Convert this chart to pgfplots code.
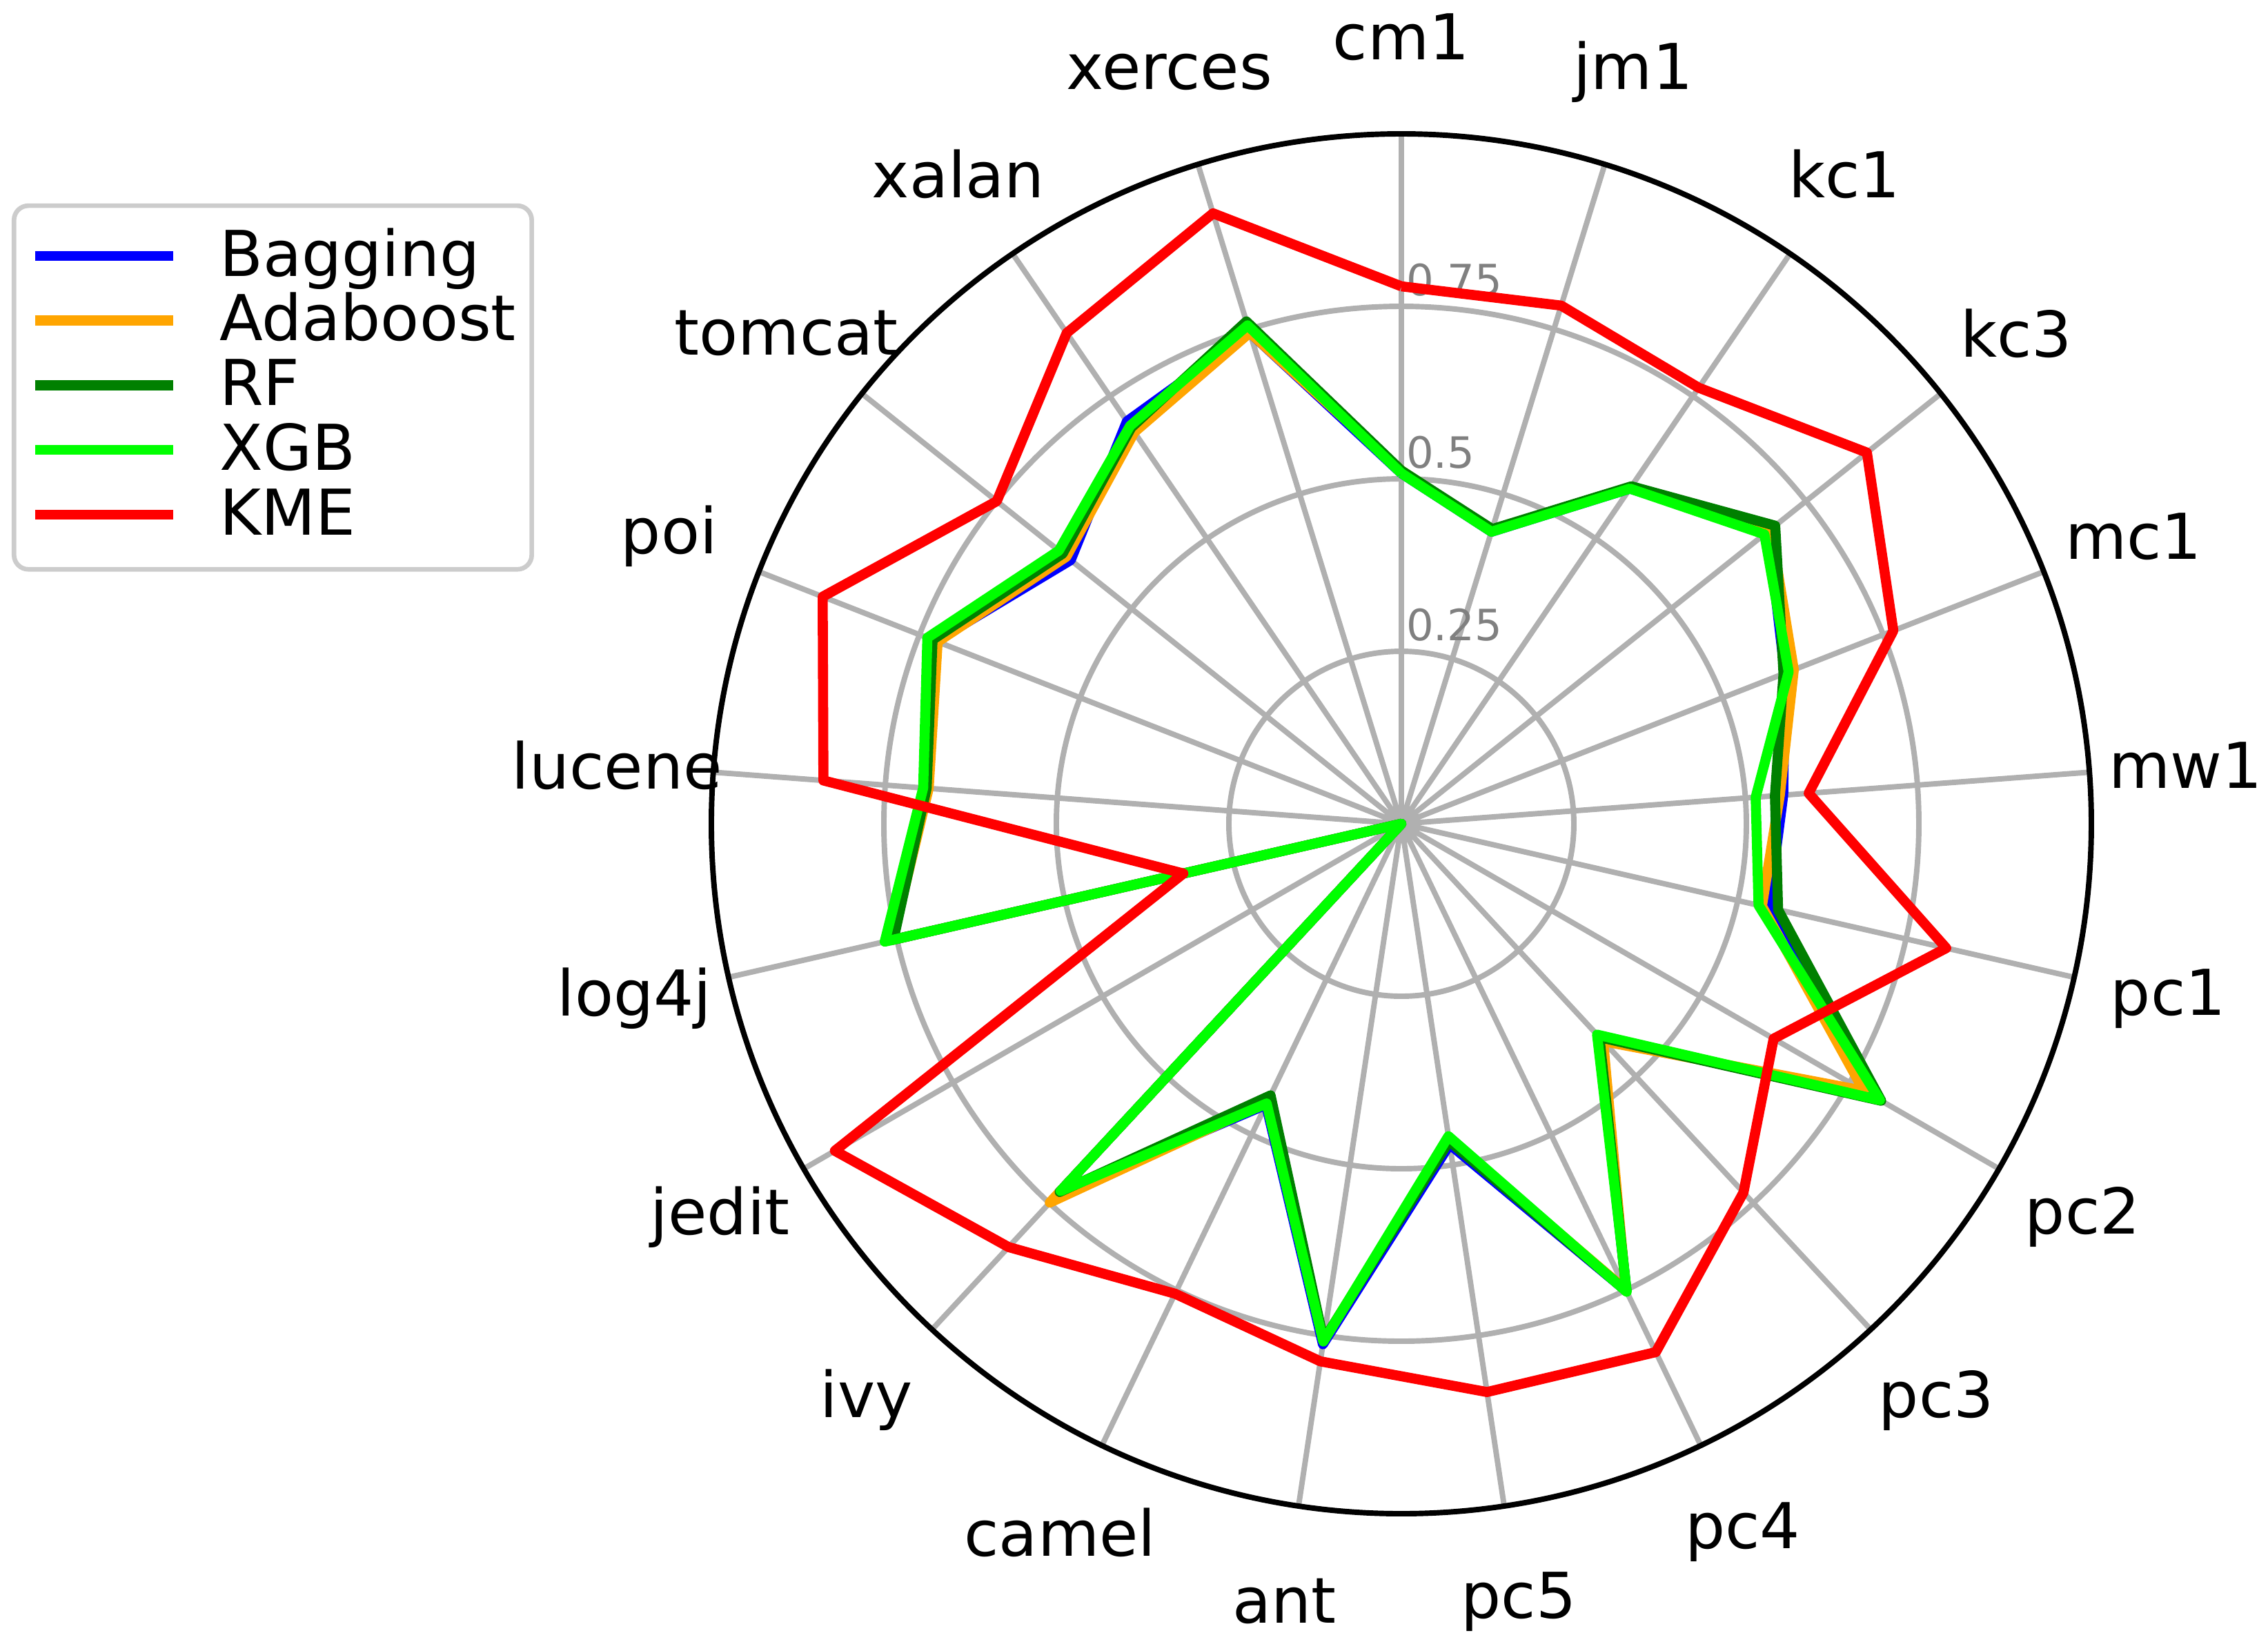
\documentclass[border=0pt]{standalone}
\usepackage{fontspec}
\setmainfont{DejaVu Sans}
\usepackage{pgfplots}
\usepackage{pgfplotstable}
\pgfplotsset{compat=1.18}
\usepgfplotslibrary{polar}

\definecolor{cBag}{RGB}{0,0,255}
\definecolor{cAda}{RGB}{255,165,0}
\definecolor{cRF}{RGB}{0,128,0}
\definecolor{cXGB}{RGB}{0,255,0}
\definecolor{cKME}{RGB}{255,0,0}
\definecolor{gridgray}{RGB}{176,176,176}
\definecolor{tickgray}{RGB}{128,128,128}
\definecolor{framegray}{RGB}{204,204,204}

% angle (deg, cm1 on top, clockwise), one column per model
\pgfplotstableread{
angle    bag   ada   rf    xgb   kme
90       0.508 0.512 0.512 0.508 0.779
72.857   0.443 0.445 0.447 0.443 0.786
55.714   0.588 0.590 0.592 0.588 0.765
38.571   0.680 0.685 0.693 0.673 0.863
21.429   0.597 0.611 0.595 0.603 0.766
4.286    0.555 0.550 0.543 0.515 0.592
347.143  0.546 0.536 0.560 0.531 0.810
330      0.800 0.774 0.803 0.801 0.623
312.857  0.420 0.430 0.422 0.417 0.729
295.714  0.752 0.750 0.752 0.753 0.850
278.571  0.470 0.462 0.465 0.458 0.833
261.429  0.763 0.758 0.757 0.759 0.788
244.286  0.452 0.447 0.437 0.450 0.756
227.143  0.730 0.749 0.728 0.726 0.837
210      0.000 0.000 0.000 0.000 0.948
192.857  0.760 0.757 0.755 0.768 0.324
175.714  0.692 0.687 0.690 0.695 0.840
158.571  0.725 0.722 0.730 0.738 0.901
141.429  0.613 0.621 0.628 0.635 0.750
124.286  0.706 0.687 0.695 0.698 0.861
107.143  0.745 0.745 0.762 0.756 0.926
90       0.508 0.512 0.512 0.508 0.779
}\scores

\tikzset{
  cat/.style={font=\fontsize{22}{26}\selectfont, anchor=center, inner sep=0pt},
  rlab/.style={font=\fontsize{15}{18}\selectfont, text=tickgray, anchor=south west,
    inner sep=0pt, xshift=1.5pt, yshift=3.4pt},
}

\begin{document}
\begin{tikzpicture}
\begin{polaraxis}[
    width=480pt, height=480pt, scale only axis,
    xmin=0, xmax=360, ymin=0, ymax=1,
    xtick={90,72.857,55.714,38.571,21.429,4.286,347.143,330,312.857,295.714,278.571,
      261.429,244.286,227.143,210,192.857,175.714,158.571,141.429,124.286,107.143},
    xticklabels={},
    ytick={0.25,0.5,0.75},
    yticklabels={},
    tick style={draw=none},
    xmajorgrids, ymajorgrids,
    grid style={gridgray, line width=1.9pt},
    separate axis lines,
    every outer x axis line/.append style={black, line width=1.9pt},
    x axis line style={black, line width=1.9pt},
    y axis line style={draw=none},
    clip=false,
    every axis plot/.append style={line width=3.5pt, line join=round},
    legend image code/.code={\draw[#1, line cap=butt] (0pt,0.8pt) -- (48pt,0.8pt);},
    legend cell align=left,
    legend style={
      at={(-0.507,0.9496)}, anchor=north west,
      draw=framegray, line width=1.6pt, rounded corners=5pt, fill=white,
      inner xsep=5.5pt, inner ysep=7pt, column sep=14.5pt, row sep=0pt,
      font=\fontsize{22}{26}\selectfont,
      nodes={inner sep=0pt, text height=17.5pt, text depth=5pt},
    },
  ]
  \coordinate (O) at (axis cs:0,0);

  \node[rlab] at (axis cs:90,0.25) {0.25};
  \node[rlab] at (axis cs:90,0.5)  {0.5};
  \node[rlab] at (axis cs:90,0.75) {0.75};

  \addplot[cBag] table[x=angle, y=bag] {\scores};
  \addlegendentry{Bagging}
  \addplot[cAda] table[x=angle, y=ada] {\scores};
  \addlegendentry{Adaboost}
  \addplot[cRF]  table[x=angle, y=rf]  {\scores};
  \addlegendentry{RF}
  \addplot[cXGB] table[x=angle, y=xgb] {\scores};
  \addlegendentry{XGB}
  \addplot[cKME] table[x=angle, y=kme] {\scores};
  \addlegendentry{KME}

  \node[cat] at (axis cs:90,1.14)      {cm1};
  \node[cat] at (axis cs:72.857,1.14)  {jm1};
  \node[cat] at (axis cs:55.714,1.14)  {kc1};
  \node[cat] at (axis cs:38.571,1.14)  {kc3};
  \node[cat] at (axis cs:21.429,1.14)  {mc1};
  \node[cat] at (axis cs:4.286,1.14)   {mw1};
  \node[cat] at (axis cs:347.143,1.14) {pc1};
  \node[cat] at (axis cs:330,1.14)     {pc2};
  \node[cat] at (axis cs:312.857,1.14) {pc3};
  \node[cat] at (axis cs:295.714,1.14) {pc4};
  \node[cat] at (axis cs:278.571,1.14) {pc5};
  \node[cat] at (axis cs:261.429,1.14) {ant};
  \node[cat] at (axis cs:244.286,1.14) {camel};
  \node[cat] at (axis cs:227.143,1.14) {ivy};
  \node[cat] at (axis cs:210,1.14)     {jedit};
  \node[cat] at (axis cs:192.857,1.14) {log4j};
  \node[cat] at (axis cs:175.714,1.14) {lucene};
  \node[cat] at (axis cs:158.571,1.14) {poi};
  \node[cat] at (axis cs:141.429,1.14) {tomcat};
  \node[cat] at (axis cs:124.286,1.14) {xalan};
  \node[cat] at (axis cs:107.143,1.14) {xerces};
\end{polaraxis}
\pgfresetboundingbox
\path[use as bounding box] (O) ++(-487.44pt,-284.4pt) rectangle ++(788.88pt,570.96pt);
\end{tikzpicture}
\end{document}
